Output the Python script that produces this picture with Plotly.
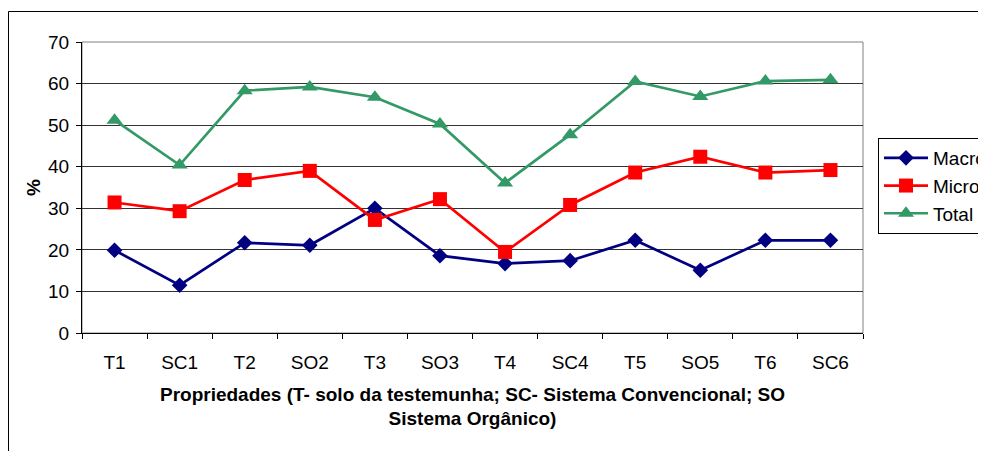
import plotly.graph_objects as go

categories = ["T1", "SC1", "T2", "SO2", "T3", "SO3", "T4", "SC4", "T5", "SO5", "T6", "SC6"]
macro = [19.9, 11.5, 21.7, 21.1, 30.0, 18.6, 16.7, 17.4, 22.3, 15.1, 22.3, 22.3]
micro = [31.4, 29.3, 36.8, 39.0, 27.2, 32.2, 19.5, 30.8, 38.6, 42.4, 38.6, 39.2]
total = [51.2, 40.4, 58.3, 59.2, 56.7, 50.3, 36.1, 47.7, 60.5, 56.9, 60.6, 60.9]
y_ticks = [0, 10, 20, 30, 40, 50, 60, 70]

FONT = "Liberation Sans, Arial, sans-serif"
# the page body adds an 8px offset, so the figure is positioned accordingly
W, H = 986, 443
L, R, T, B = 74, 855, 34, 325
pw, ph = R - L, B - T

fig = go.Figure()
series = [
    ("Macro", macro, "#000080", "diamond", 12),
    ("Micro", micro, "#FF0000", "square", 14),
    ("Total", total, "#339966", "triangle-up", 14),
]
for name, vals, col, sym, sz in series:
    fig.add_trace(go.Scatter(
        x=categories, y=vals, name=name, mode="lines+markers",
        line=dict(color=col, width=2.7),
        marker=dict(symbol=sym, size=sz, color=col, line=dict(width=0)),
        legendgroup=name,
    ))

# outer chart border (extends beyond image on right/bottom)
fig.add_shape(type="rect", xref="paper", yref="paper",
              x0=(0.5 - L) / pw, x1=(W + 20 - L) / pw,
              y0=(B - (H + 20)) / ph, y1=(B - 3.5) / ph,
              line=dict(color="#000000", width=1), fillcolor="rgba(0,0,0,0)", layer="below")
# plot area border
fig.add_shape(type="rect", xref="paper", yref="paper", x0=0, x1=1, y0=0, y1=1,
              line=dict(color="#808080", width=1), fillcolor="rgba(0,0,0,0)", layer="below")

fig.update_layout(
    width=W, height=H,
    margin=dict(l=L, r=W - R, t=T, b=H - B, autoexpand=False),
    paper_bgcolor="white", plot_bgcolor="white",
    font=dict(family=FONT, size=19, color="black"),
    showlegend=True,
    legend=dict(
        x=(870 - L) / pw, xanchor="left",
        y=(B - 130) / ph, yanchor="top",
        bordercolor="black", borderwidth=1, bgcolor="white",
        font=dict(family=FONT, size=19, color="black"),
        tracegroupgap=0, traceorder="grouped",
        itemwidth=44,
    ),
    xaxis=dict(
        type="category", tickson="boundaries", ticks="outside", ticklen=5,
        tickcolor="black", showline=True, linecolor="black", linewidth=1,
        showgrid=False, zeroline=False,
        tickfont=dict(family=FONT, size=19, color="black"),
        ticklabelstandoff=12,
        title=dict(text="<b>Propriedades (T- solo da testemunha; SC- Sistema Convencional; SO<br>Sistema Orgânico)</b>",
                   font=dict(family=FONT, size=19, color="black"), standoff=15),
        range=[-0.5, 11.5],
    ),
    yaxis=dict(
        range=[0, 70], tickvals=y_ticks, ticks="outside", ticklen=5, tickcolor="black",
        showline=True, linecolor="black", linewidth=1,
        showgrid=True, gridcolor="#333333", gridwidth=1, zeroline=False,
        tickfont=dict(family=FONT, size=19, color="black"),
        ticklabelstandoff=3,
        title=dict(text="<b>%</b>", font=dict(family=FONT, size=19, color="black"), standoff=2),
    ),
)

fig.write_html("out.html")
